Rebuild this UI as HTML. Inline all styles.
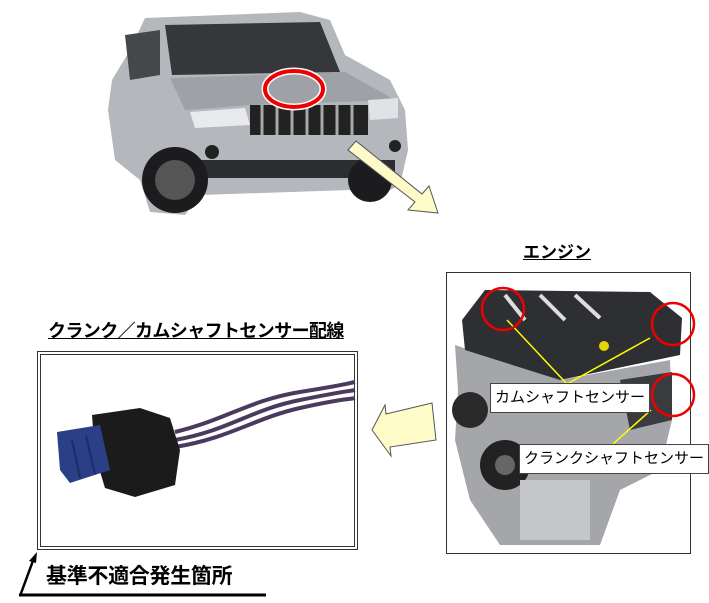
<!DOCTYPE html>
<html><head><meta charset="utf-8"><style>
html,body{margin:0;padding:0;background:#fff;}
body{width:709px;height:603px;position:relative;overflow:hidden;font-family:"Liberation Sans","Noto Sans CJK JP",sans-serif;}
.t{position:absolute;font-weight:bold;color:#000;white-space:nowrap;}
.lbl{position:absolute;background:#fff;border:1px solid #444;font-size:15px;line-height:28px;padding:0 4px;white-space:nowrap;font-family:"Liberation Sans","Noto Sans CJK JP",sans-serif;}
</style></head><body>
<svg width="709" height="603" style="position:absolute;left:0;top:0">
<!-- car -->
<g>
<path d="M130 50 L145 18 L300 12 L330 20 L345 55 L390 80 L405 110 L408 150 L400 185 L370 200 L350 190 L200 195 L185 215 L150 212 L140 180 L115 160 L108 110 L112 80 Z" fill="#b4b7bb"/>
<path d="M165 25 L320 22 L340 72 L172 75 Z" fill="#35373b"/>
<path d="M125 35 L160 30 L160 75 L130 80 Z" fill="#45474b"/>
<path d="M170 78 L345 72 L395 100 L250 105 L185 110 Z" fill="#9ea1a5"/>
<path d="M190 112 L245 108 L250 125 L195 128 Z" fill="#e8eaee"/>
<path d="M368 100 L398 98 L398 118 L370 120 Z" fill="#e0e2e6"/>
<rect x="250" y="105" width="118" height="30" fill="#222"/>
<g stroke="#a5a8ac" stroke-width="3"><line x1="262" y1="105" x2="262" y2="135"/><line x1="277" y1="105" x2="277" y2="135"/><line x1="292" y1="105" x2="292" y2="135"/><line x1="307" y1="105" x2="307" y2="135"/><line x1="322" y1="105" x2="322" y2="135"/><line x1="337" y1="105" x2="337" y2="135"/><line x1="352" y1="105" x2="352" y2="135"/></g>
<rect x="180" y="160" width="215" height="18" fill="#2c2d30"/>
<circle cx="175" cy="180" r="33" fill="#1c1c1e"/><circle cx="175" cy="180" r="20" fill="#555"/>
<circle cx="370" cy="180" r="22" fill="#1c1c1e"/>
<circle cx="212" cy="152" r="7" fill="#222"/><circle cx="395" cy="146" r="6" fill="#222"/>
<ellipse cx="294" cy="89" rx="29" ry="18" fill="none" stroke="#fff" stroke-width="7"/>
<ellipse cx="294" cy="89" rx="29" ry="18" fill="none" stroke="#e00" stroke-width="4"/>
<path d="M348 150 L356 141 L422 194 L429 186 L438 213 L408 210 L415 202 Z" fill="#fefbc9" stroke="#555" stroke-width="1"/>
</g>
<!-- left arrow -->
<path d="M372 430 L385 405 L386 414 L432 403 L436 440 L390 447 L391 456 Z" fill="#fefbc9" stroke="#555" stroke-width="1"/>
<!-- wire box -->
<rect x="37.5" y="351.5" width="320" height="198" fill="#fff" stroke="#333" stroke-width="1"/>
<rect x="40.5" y="354.5" width="314" height="192" fill="none" stroke="#333" stroke-width="1"/>
<g fill="none" stroke="#4b3a5f" stroke-width="4">
<path d="M175 440 C230 430 250 410 300 400 S345 392 355 390"/>
<path d="M175 447 C230 438 255 418 300 408 S345 400 355 398"/>
<path d="M175 432 C225 420 250 400 300 392 S345 384 355 382"/>
</g>
<path d="M92 415 L140 408 L170 418 L180 450 L175 485 L135 497 L105 488 L95 455 Z" fill="#1b1b1c"/>
<path d="M57 432 L100 425 L110 470 L70 483 L60 470 Z" fill="#2b3f86"/>
<line x1="72" y1="440" x2="80" y2="478" stroke="#1d2c66" stroke-width="2"/>
<line x1="86" y1="436" x2="95" y2="474" stroke="#1d2c66" stroke-width="2"/>
<!-- L marker -->
<path d="M20 596 L34 558" stroke="#000" stroke-width="2.5" fill="none"/>
<path d="M37 552 L29 561 L36 563 Z" fill="#000"/>
<line x1="19" y1="595" x2="266" y2="595" stroke="#000" stroke-width="3"/>
<!-- engine box -->
<rect x="446.5" y="272.5" width="244" height="281" fill="#fff" stroke="#333" stroke-width="1"/>
<path d="M455 345 L560 380 L670 360 L672 420 L660 470 L620 490 L600 545 L500 545 L470 500 L455 440 L458 390 Z" fill="#a4a6aa"/>
<path d="M462 320 L485 290 L650 292 L682 318 L680 355 L560 380 L465 350 Z" fill="#2e2f33"/>
<g stroke="#ddd" stroke-width="4"><line x1="505" y1="295" x2="525" y2="320"/><line x1="540" y1="295" x2="565" y2="320"/><line x1="575" y1="295" x2="600" y2="318"/></g>
<circle cx="470" cy="410" r="18" fill="#2a2a2a"/><circle cx="505" cy="465" r="25" fill="#222"/><circle cx="505" cy="465" r="10" fill="#666"/>
<path d="M620 380 L672 372 L672 420 L630 430 Z" fill="#3a3b3f"/>
<rect x="520" y="480" width="70" height="60" fill="#c4c6c9"/>
<circle cx="604" cy="346" r="5" fill="#e6d600"/>
<g stroke="#ffff00" stroke-width="1.5" fill="none">
<line x1="567" y1="384" x2="507" y2="320"/><line x1="567" y1="384" x2="650" y2="338"/><line x1="613" y1="444" x2="651" y2="410"/>
</g>
<circle cx="503" cy="309" r="21" fill="none" stroke="#e00" stroke-width="2.5"/>
<circle cx="673" cy="324" r="21" fill="none" stroke="#e00" stroke-width="2.5"/>
<circle cx="673" cy="395" r="21" fill="none" stroke="#e00" stroke-width="2.5"/>
</svg>
<div class="lbl" style="left:490px;top:383px;">カムシャフトセンサー</div>
<div class="lbl" style="left:519px;top:444px;">クランクシャフトセンサー</div>
<div class="t" style="left:523px;top:238px;font-size:17px;text-decoration:underline;">エンジン</div>
<div class="t" style="left:48px;top:317px;font-size:18px;text-decoration:underline;letter-spacing:-0.6px;">クランク／カムシャフトセンサー配線</div>
<div class="t" style="left:46px;top:560px;font-size:21px;letter-spacing:-0.3px;">基準不適合発生箇所</div>
</body></html>
